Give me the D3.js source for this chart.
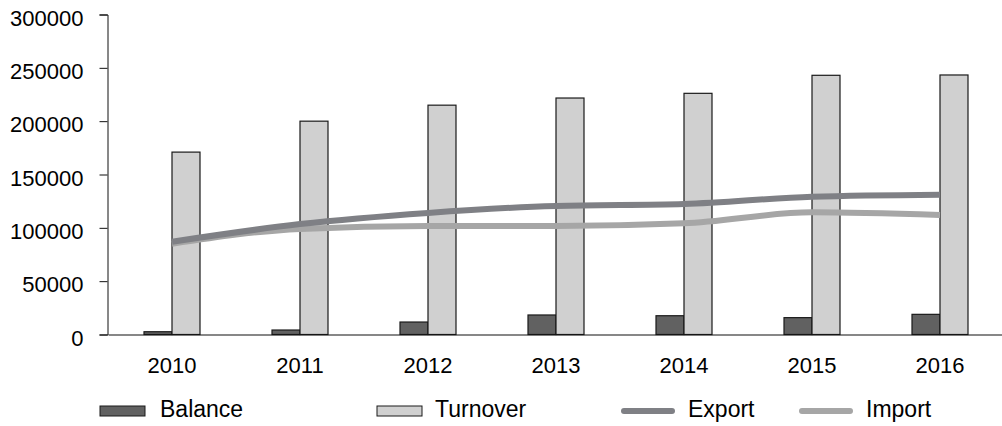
<!DOCTYPE html>
<html>
<head>
<meta charset="utf-8">
<script src="https://cdn.jsdelivr.net/npm/d3@7"></script>
<style>
  body { margin: 0; background: #fff; }
  svg text { font-family: "Liberation Sans", Arial, sans-serif; font-size: 22px; fill: #000; }
  svg .legend text { font-size: 23px; }
</style>
</head>
<body>
<div id="chart"></div>
<script>
var years = ["2010", "2011", "2012", "2013", "2014", "2015", "2016"];
var balance = [2600, 4200, 11700, 18300, 17600, 15800, 18900];
var turnover = [171000, 200000, 215000, 221700, 226100, 243000, 243300];
var exportVals = [87000, 103500, 114000, 120500, 122300, 129200, 131100];
var importVals = [85000, 99000, 101700, 101700, 104200, 114500, 112000];
var yTicks = [0, 50000, 100000, 150000, 200000, 250000, 300000];

var width = 1002, height = 426;
var plotLeft = 108, plotTop = 14.5, plotBottom = 334.5, plotRight = 1004;

var svg = d3.select("#chart").append("svg")
    .attr("width", width)
    .attr("height", height);

var x = d3.scaleBand().domain(years).range([plotLeft, plotRight]);
var y = d3.scaleLinear().domain([0, 300000]).range([plotBottom, plotTop]);
var barW = 28;

// y axis
var yAxis = d3.axisLeft(y).tickValues(yTicks).tickSize(8).tickPadding(16).tickFormat(d3.format("d"));
var gy = svg.append("g")
    .attr("transform", "translate(" + (plotLeft - 0.5) + ",0)")
    .call(yAxis);
gy.select(".domain").attr("stroke", "#111");
gy.selectAll(".tick line").attr("stroke", "#111");
gy.selectAll(".tick text").attr("dy", "0.48em");
gy.attr("font-family", null).attr("font-size", null);

// bars
var bars = svg.append("g");
bars.selectAll(".bal")
    .data(years)
  .enter().append("rect")
    .attr("class", "bal")
    .attr("x", function(d) { return x(d) + x.bandwidth() / 2 - barW; })
    .attr("y", function(d, i) { return y(balance[i]); })
    .attr("width", barW)
    .attr("height", function(d, i) { return plotBottom - y(balance[i]); })
    .attr("fill", "#616161")
    .attr("stroke", "#1a1a1a")
    .attr("stroke-width", 1.2);

bars.selectAll(".turn")
    .data(years)
  .enter().append("rect")
    .attr("class", "turn")
    .attr("x", function(d) { return x(d) + x.bandwidth() / 2; })
    .attr("y", function(d, i) { return y(turnover[i]); })
    .attr("width", barW)
    .attr("height", function(d, i) { return plotBottom - y(turnover[i]); })
    .attr("fill", "#d0d0d0")
    .attr("stroke", "#1a1a1a")
    .attr("stroke-width", 1.2);

// x axis
var xAxis = d3.axisBottom(x).tickSize(0).tickPadding(23);
var gx = svg.append("g")
    .attr("transform", "translate(0," + plotBottom + ")")
    .call(xAxis);
gx.select(".domain").attr("stroke", "#111").attr("stroke-width", 1.2);
gx.attr("font-family", null).attr("font-size", null);

// lines
var line = d3.line()
    .x(function(d, i) { return x(years[i]) + x.bandwidth() / 2; })
    .y(function(d) { return y(d); })
    .curve(d3.curveMonotoneX);

svg.append("path")
    .datum(importVals)
    .attr("d", line)
    .attr("fill", "none")
    .attr("stroke", "#a6a6a6")
    .attr("stroke-width", 6);

svg.append("path")
    .datum(exportVals)
    .attr("d", line)
    .attr("fill", "none")
    .attr("stroke", "#7f8085")
    .attr("stroke-width", 6);

// legend
var legendItems = [
  {name: "Balance", type: "rect", color: "#616161", x: 100},
  {name: "Turnover", type: "rect", color: "#d0d0d0", x: 377},
  {name: "Export", type: "line", color: "#7f8085", x: 622},
  {name: "Import", type: "line", color: "#a6a6a6", x: 800}
];

var legend = svg.selectAll(".legend")
    .data(legendItems)
  .enter().append("g")
    .attr("class", "legend")
    .attr("transform", function(d) { return "translate(" + d.x + ",406)"; });

legend.filter(function(d) { return d.type == "rect"; })
  .append("rect")
    .attr("width", 45)
    .attr("height", 10)
    .attr("fill", function(d) { return d.color; })
    .attr("stroke", "#1a1a1a")
    .attr("stroke-width", 1);

legend.filter(function(d) { return d.type == "line"; })
  .append("line")
    .attr("x1", 2).attr("x2", 50)
    .attr("y1", 5).attr("y2", 5)
    .attr("stroke", function(d) { return d.color; })
    .attr("stroke-width", 6)
    .attr("stroke-linecap", "round");

legend.append("text")
    .attr("x", function(d) { return d.type == "rect" ? (d.name == "Balance" ? 60 : 58) : 66; })
    .attr("y", 11)
    .text(function(d) { return d.name; });
</script>
</body>
</html>
